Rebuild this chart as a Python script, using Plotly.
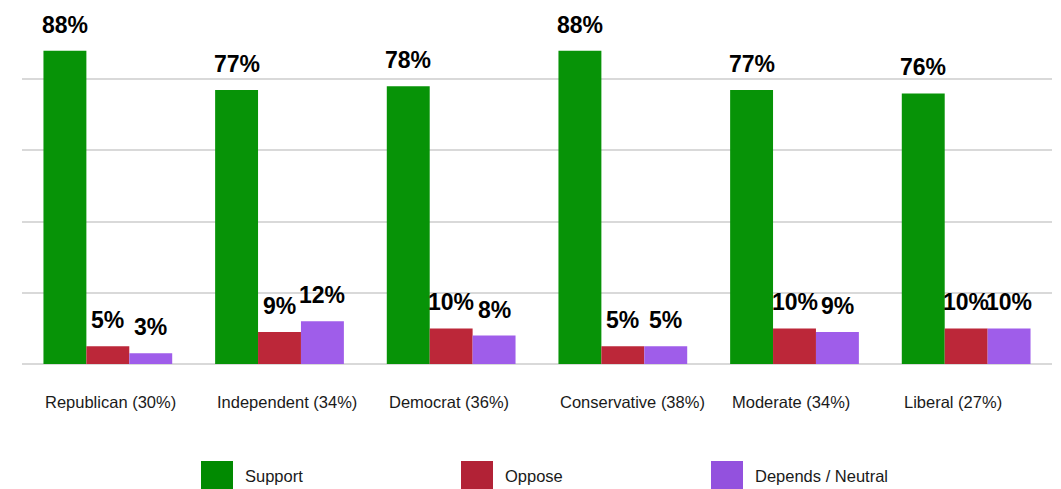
import plotly.graph_objects as go

categories = ["Republican (30%)", "Independent (34%)", "Democrat (36%)",
              "Conservative (38%)", "Moderate (34%)", "Liberal (27%)"]
series_names = ["Support", "Oppose", "Depends / Neutral"]
support = [88, 77, 78, 88, 77, 76]
oppose = [5, 9, 10, 5, 10, 10]
depends = [3, 12, 8, 5, 9, 10]
series_values = [support, oppose, depends]
bar_colors = ["#079307", "#BC2739", "#9F5DEA"]
legend_colors = ["#018A01", "#B22236", "#9351DE"]

W, H = 1061, 489
ML, MR, MT, MB = 22, 9, 8, 125
plot_w = W - ML - MR
plot_h = H - MT - MB
BARGAP = 0.25
cat_px = plot_w / len(categories)
bar_px = cat_px * (1 - BARGAP) / len(series_names)

fig = go.Figure()
for name, vals, col in zip(series_names, series_values, bar_colors):
    fig.add_trace(go.Bar(x=categories, y=vals, name=name, marker_color=col,
                         marker_line_width=0, showlegend=False))

LABEL_FONT = "Liberation Sans, Arial, sans-serif"
annotations = []
for si, vals in enumerate(series_values):
    for cat, v in zip(categories, vals):
        annotations.append(dict(
            x=cat, y=v, xref="x", yref="y", text=f"<b>{v}%</b>",
            showarrow=False, xanchor="center", yanchor="bottom",
            xshift=(si - 1) * bar_px, yshift=11,
            font=dict(family=LABEL_FONT, size=23, color="#000000")))

# category labels, left-aligned at group start
for cat in categories:
    annotations.append(dict(
        x=cat, y=0, xref="x", yref="y", text=cat, showarrow=False,
        xanchor="left", yanchor="middle", xshift=-1.5 * bar_px, yshift=-38,
        font=dict(family=LABEL_FONT, size=16.5, color="#1a1a1a")))

# custom legend with large squares
def px_to_paper_x(px):
    return (px - ML) / plot_w

def py_to_paper_y(py):
    return (H - MB - py) / plot_h

legend_x = [201, 461, 711]
shapes = []
for lx, name, col in zip(legend_x, series_names, legend_colors):
    shapes.append(dict(type="rect", xref="paper", yref="paper",
                       x0=px_to_paper_x(lx), x1=px_to_paper_x(lx + 32),
                       y0=py_to_paper_y(461), y1=py_to_paper_y(493),
                       fillcolor=col, line_width=0, layer="above"))
    annotations.append(dict(
        x=px_to_paper_x(lx + 42), y=py_to_paper_y(476), xref="paper", yref="paper",
        text=name, showarrow=False, xanchor="left", yanchor="middle",
        font=dict(family=LABEL_FONT, size=16.5, color="#1a1a1a")))

fig.update_layout(
    width=W, height=H,
    margin=dict(l=ML, r=MR, t=MT, b=MB, pad=0),
    barmode="group", bargap=BARGAP, bargroupgap=0,
    plot_bgcolor="white", paper_bgcolor="white",
    xaxis=dict(showticklabels=False, showgrid=False, zeroline=False,
               showline=False, ticks=""),
    yaxis=dict(range=[0, 100], dtick=20, showticklabels=False,
               gridcolor="#D9D9D9", gridwidth=1.5, zeroline=True,
               zerolinecolor="#D9D9D9", zerolinewidth=1.5, showline=False),
    annotations=annotations, shapes=shapes, showlegend=False,
)

fig.write_html("out.html", config={"displayModeBar": False},
               post_script="document.body.style.margin='0';document.body.style.overflow='hidden';")
